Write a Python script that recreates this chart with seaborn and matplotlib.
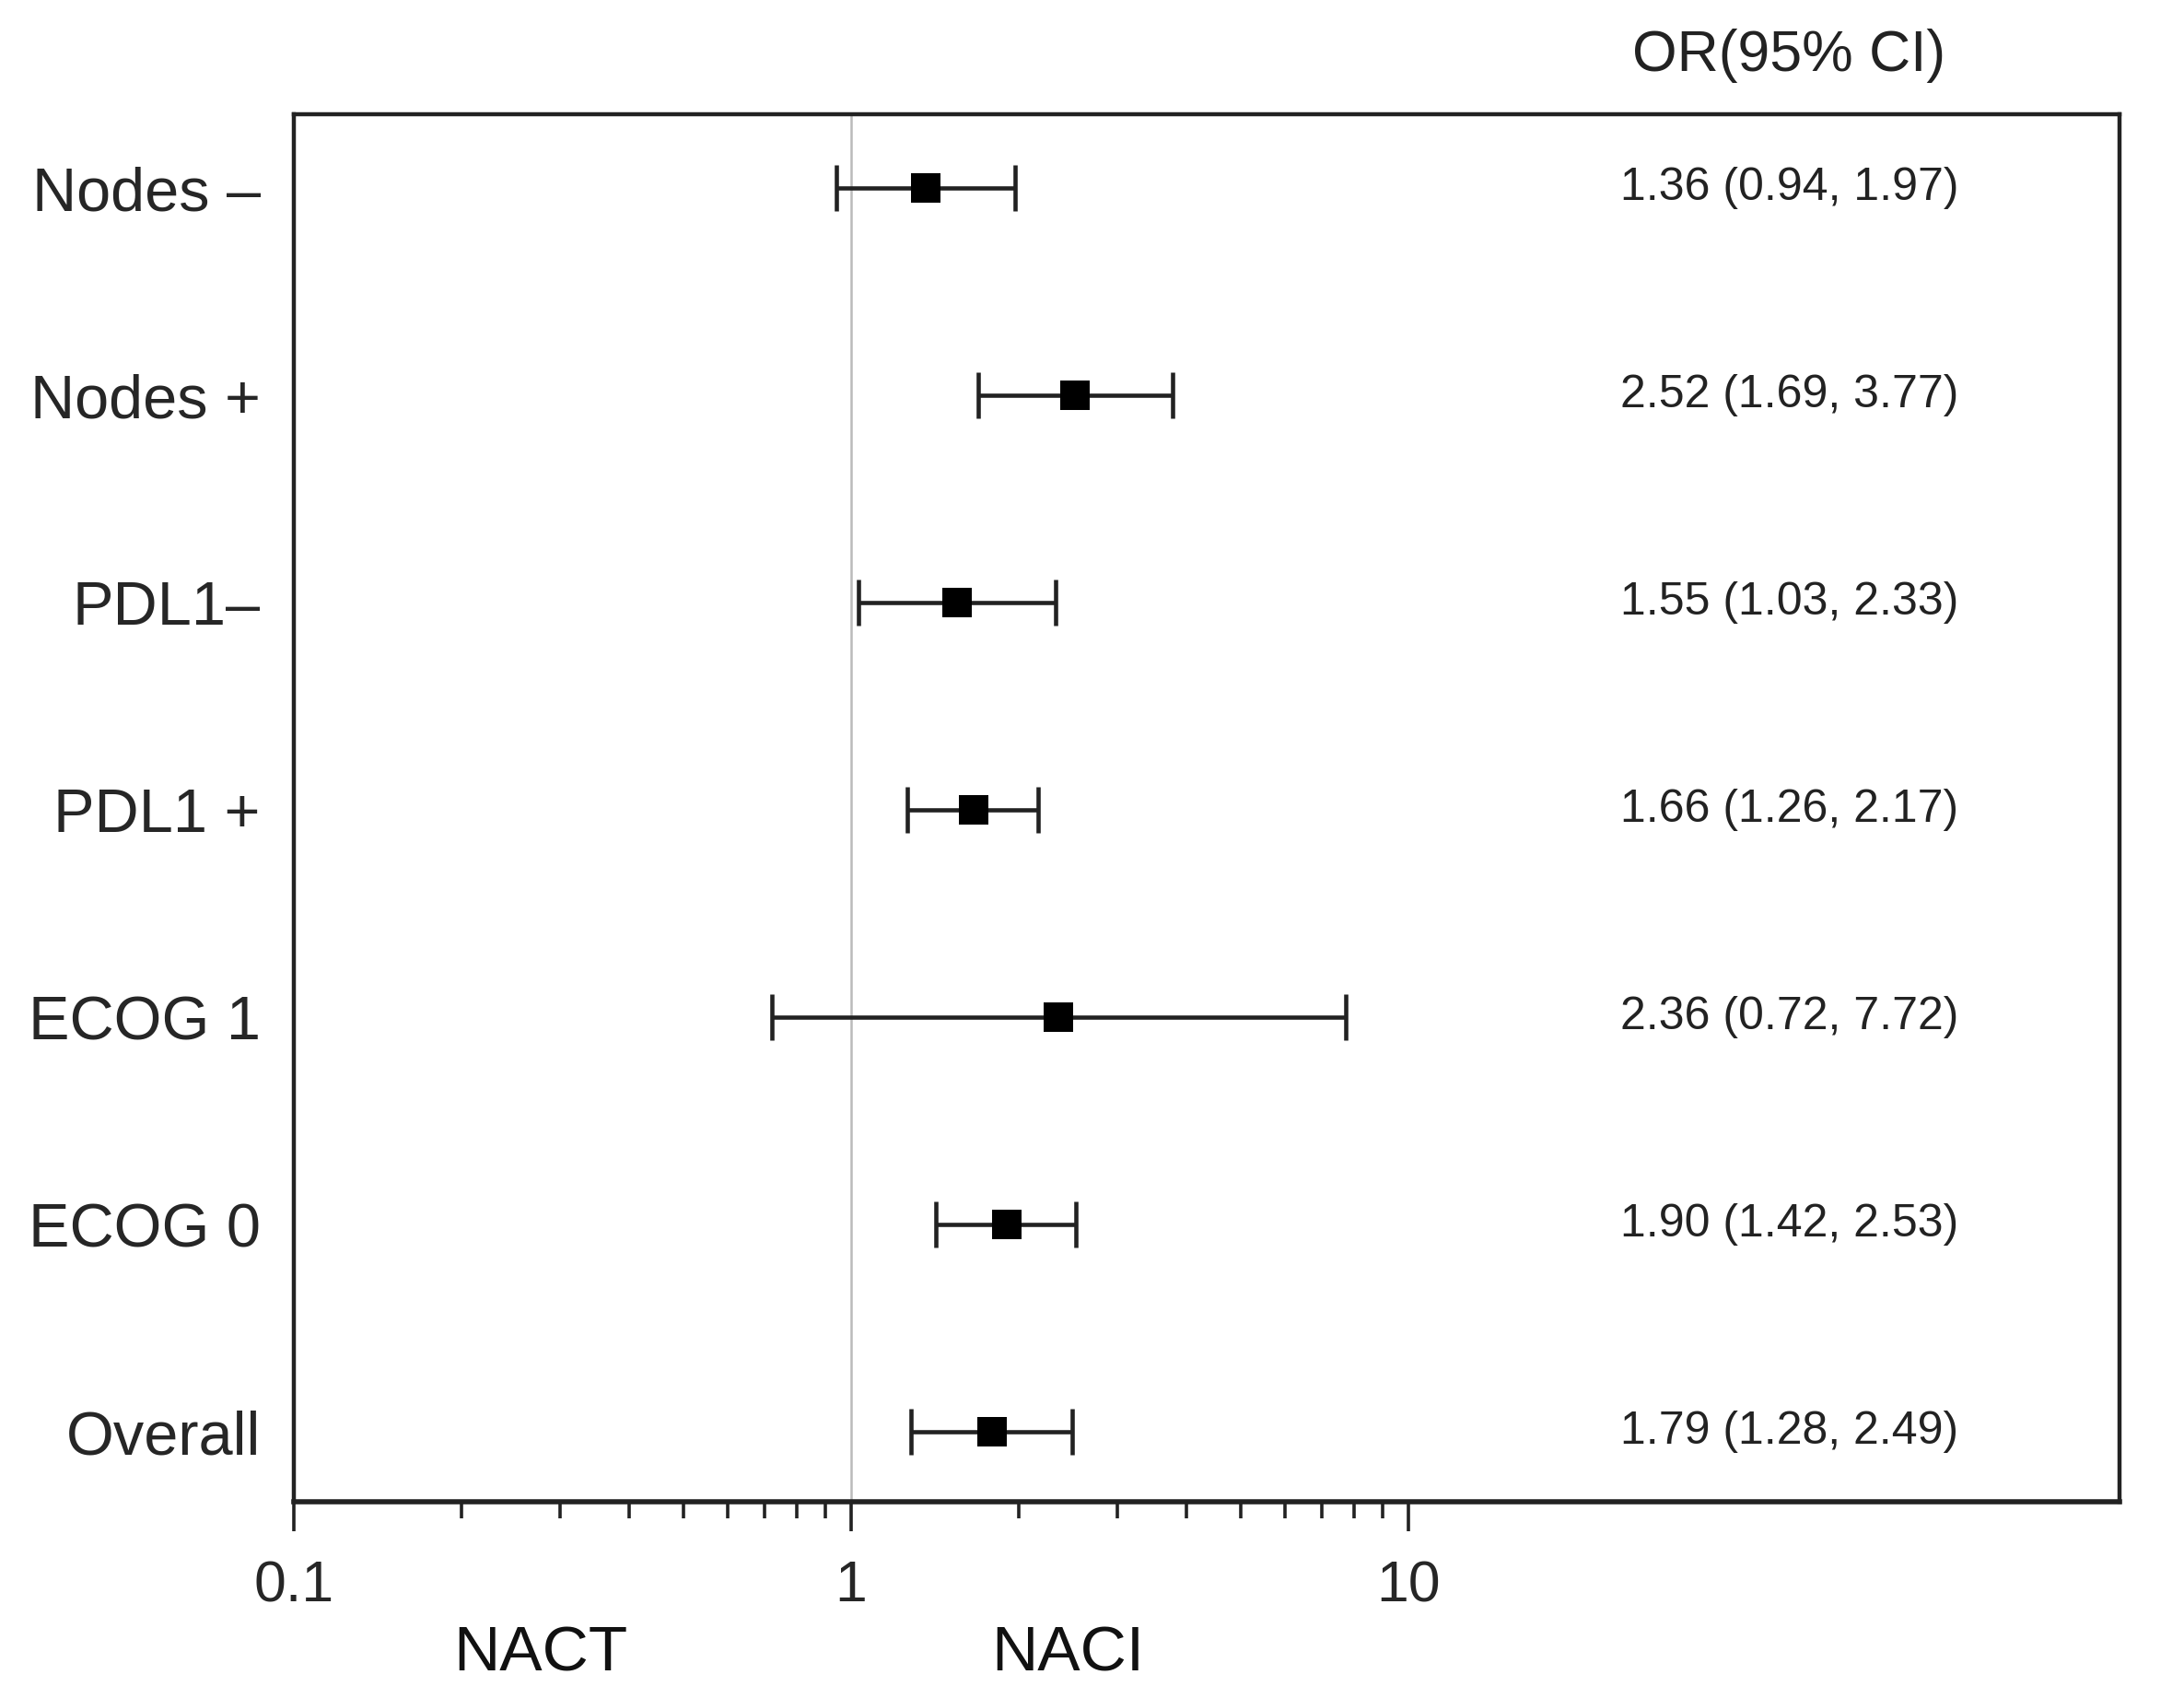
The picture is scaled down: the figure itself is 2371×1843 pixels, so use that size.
import numpy as np
import pandas as pd
import matplotlib.pyplot as plt
import seaborn as sns
from matplotlib.ticker import FixedLocator, NullFormatter

# Dados do forest plot
grupos = ['Nodes \u2013', 'Nodes +', 'PDL1\u2013', 'PDL1 +', 'ECOG 1', 'ECOG 0', 'Overall']
odds = [1.36, 2.52, 1.55, 1.66, 2.36, 1.90, 1.79]
ic_inf = [0.94, 1.69, 1.03, 1.26, 0.72, 1.42, 1.28]
ic_sup = [1.97, 3.77, 2.33, 2.17, 7.72, 2.53, 2.49]
rotulos = ['1.36 (0.94, 1.97)', '2.52 (1.69, 3.77)', '1.55 (1.03, 2.33)',
           '1.66 (1.26, 2.17)', '2.36 (0.72, 7.72)', '1.90 (1.42, 2.53)',
           '1.79 (1.28, 2.49)']

df = pd.DataFrame({'grupo': grupos, 'OR': odds, 'lo': ic_inf, 'hi': ic_sup,
                   'pos': np.arange(len(grupos))})

sns.set_theme(style='ticks')
plt.rcParams['font.family'] = ['Liberation Sans', 'DejaVu Sans']

fig = plt.figure(figsize=(23.71, 18.43), dpi=100)
ax = fig.add_axes([0.1345, 0.1156, 0.836, 0.8171])

# linha de referência em OR = 1
ax.axvline(1, color='#bbbbbb', lw=1.8, zorder=1)

# intervalos de confiança
ax.errorbar(df['OR'], df['pos'],
            xerr=[df['OR'] - df['lo'], df['hi'] - df['OR']],
            fmt='none', ecolor='#222222', elinewidth=3.3,
            capsize=18, capthick=3.3, zorder=2)

# pontos (quadrados)
sns.scatterplot(data=df, x='OR', y='pos', marker='s', s=560, color='black',
                linewidth=0, zorder=3, ax=ax)

ax.set_xscale('log')
ax.set_xlim(0.1, 189)
ax.set_ylim(6.336, -0.356)

ax.xaxis.set_major_locator(FixedLocator([0.1, 1, 10]))
ax.xaxis.set_minor_locator(FixedLocator(list(np.arange(0.2, 1.0, 0.1)) + list(range(2, 10))))
ax.xaxis.set_minor_formatter(NullFormatter())
ax.set_xticklabels(['0.1', '1', '10'])

ax.set_yticks(df['pos'])
ax.set_yticklabels(df['grupo'])

ax.tick_params(axis='x', which='major', length=23, width=2.6, pad=22,
               labelsize=45, color='#222222')
ax.tick_params(axis='x', which='minor', length=13, width=2.6, color='#222222')
ax.tick_params(axis='y', length=0, pad=26, labelsize=48)

for sp in ax.spines.values():
    sp.set_visible(True)
    sp.set_linewidth(3.2)
    sp.set_color('#222222')
ax.spines['bottom'].set_linewidth(4.0)

ax.set_xlabel('')
ax.set_ylabel('')

# textos à direita
for i, txt in enumerate(rotulos):
    ax.text(0.819, df['pos'][i], txt, transform=ax.get_yaxis_transform(),
            ha='center', va='center', fontsize=36, color='#222222')
ax.text(0.819, 1.042, 'OR(95% CI)', transform=ax.transAxes,
        ha='center', va='center', fontsize=45, color='#222222')

ax.text(0.135, -0.110, 'NACT', transform=ax.transAxes,
        ha='center', va='center', fontsize=50, color='#111111')
ax.text(0.424, -0.110, 'NACI', transform=ax.transAxes,
        ha='center', va='center', fontsize=50, color='#111111')

plt.savefig('out.png', dpi=100)
